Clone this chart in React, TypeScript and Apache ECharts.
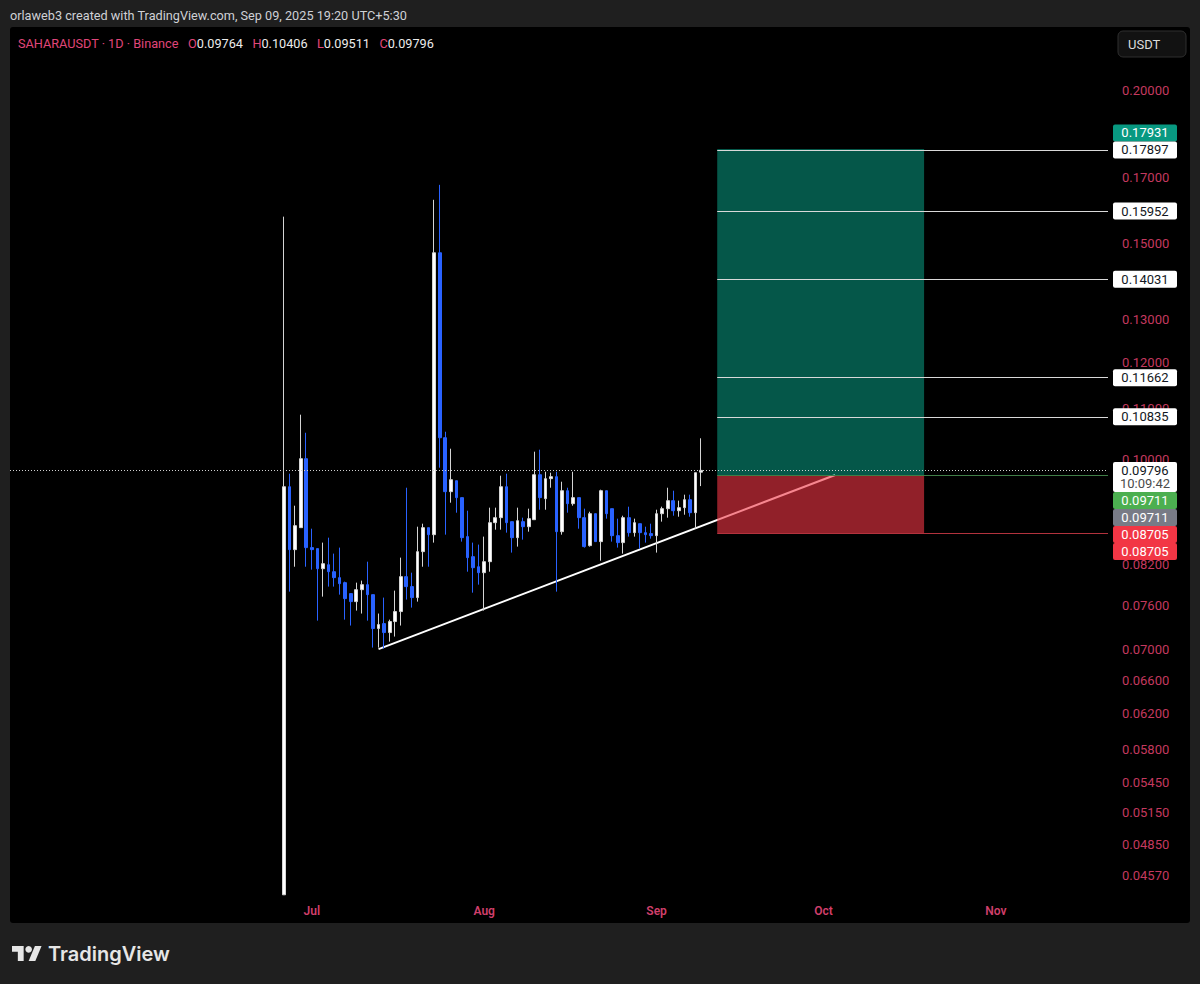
import React, { useEffect, useRef } from 'react';
import * as echarts from 'echarts';

// Daily candles, day 0 = 2025-06-26 (SAHARAUSDT, 1D, Binance)
const candleOpen = [
  0.0441, 0.095, 0.0844, 0.08796, 0.10014, 0.08472, 0.08456, 0.08143, 0.08204, 0.08097,
  0.08007, 0.07932, 0.0777, 0.07654, 0.07828, 0.07902, 0.07755, 0.07276, 0.07344, 0.07221,
  0.07372, 0.07512, 0.08022, 0.07873, 0.07712, 0.08408, 0.08796, 0.08681, 0.1475, 0.10417,
  0.09412, 0.09608, 0.09307, 0.08649, 0.08329, 0.08173, 0.08082, 0.08251, 0.08879, 0.08963,
  0.095, 0.08896, 0.08632, 0.08896, 0.08812, 0.08929, 0.09717, 0.09289, 0.09645, 0.09681,
  0.0873, 0.09429, 0.09202, 0.09307, 0.08963, 0.08504, 0.0903, 0.08568, 0.09429, 0.09116,
  0.08665, 0.08552, 0.08963, 0.08714, 0.08862, 0.08714, 0.08698, 0.08665, 0.0903, 0.09116,
  0.09254, 0.09081, 0.09133, 0.09271, 0.09047, 0.09764,
];
const candleClose = [
  0.095, 0.0844, 0.08829, 0.10014, 0.08472, 0.0844, 0.08143, 0.0822, 0.08097, 0.08007,
  0.07917, 0.07697, 0.07654, 0.07828, 0.07902, 0.07755, 0.07276, 0.0733, 0.07221, 0.07372,
  0.07512, 0.08022, 0.07873, 0.07712, 0.08408, 0.08796, 0.08681, 0.1475, 0.10417, 0.09412,
  0.09626, 0.09307, 0.08632, 0.08314, 0.08158, 0.08082, 0.08251, 0.08879, 0.08963, 0.095,
  0.08879, 0.08632, 0.08912, 0.08812, 0.08946, 0.09717, 0.09307, 0.09645, 0.09681, 0.0873,
  0.09429, 0.09202, 0.09307, 0.08963, 0.08488, 0.0903, 0.08568, 0.09429, 0.0903, 0.08665,
  0.08552, 0.08963, 0.08714, 0.08879, 0.08714, 0.08681, 0.08665, 0.0903, 0.09116, 0.09254,
  0.09081, 0.09133, 0.09271, 0.09047, 0.09754, 0.09796,
];
const candleLow = [
  0.0441, 0.07799, 0.08173, 0.08796, 0.08173, 0.08128, 0.07385, 0.07726, 0.07873, 0.07873,
  0.07755, 0.07399, 0.07317, 0.07526, 0.07484, 0.07385, 0.0702, 0.0702, 0.07007, 0.07099,
  0.07167, 0.07317, 0.07683, 0.07568, 0.07654, 0.08173, 0.08173, 0.08552, 0.09846, 0.08681,
  0.09219, 0.09047, 0.08568, 0.08097, 0.07784, 0.07902, 0.07526, 0.08097, 0.08763, 0.08763,
  0.08714, 0.08393, 0.08488, 0.086, 0.0873, 0.08929, 0.09098, 0.09098, 0.09482, 0.07799,
  0.08681, 0.09047, 0.09167, 0.08779, 0.08472, 0.08488, 0.08568, 0.08266, 0.08946, 0.08568,
  0.08472, 0.08377, 0.08649, 0.08649, 0.08456, 0.08552, 0.08616, 0.08393, 0.08896, 0.08963,
  0.08996, 0.08979, 0.09013, 0.08979, 0.08779, 0.09511,
];
const candleHigh = [
  0.15787, 0.09736, 0.09167, 0.10878, 0.10515, 0.08779, 0.08456, 0.08552, 0.08632, 0.08377,
  0.08472, 0.07947, 0.0777, 0.07932, 0.07962, 0.08251, 0.07755, 0.07484, 0.07712, 0.07399,
  0.07814, 0.08314, 0.09482, 0.08082, 0.08812, 0.08862, 0.08796, 0.16295, 0.1676, 0.10535,
  0.10204, 0.09608, 0.09307, 0.09081, 0.08552, 0.0852, 0.08649, 0.09133, 0.09133, 0.09699,
  0.09736, 0.08896, 0.09133, 0.08963, 0.09116, 0.10147, 0.10185, 0.09772, 0.09754, 0.09772,
  0.0959, 0.09482, 0.09772, 0.09307, 0.09116, 0.09064, 0.0903, 0.09447, 0.09429, 0.09116,
  0.08946, 0.08996, 0.0915, 0.08946, 0.08862, 0.08812, 0.08862, 0.09098, 0.0915, 0.09482,
  0.09429, 0.09254, 0.09359, 0.09359, 0.09754, 0.10406,
];

const monthTickDays = [5, 36, 67, 97, 128];
const monthLabels = ['Jul', 'Aug', 'Sep', 'Oct', 'Nov'];
const priceTicks = [
  0.2, 0.17, 0.15, 0.13, 0.12, 0.11, 0.1, 0.082, 0.076, 0.07, 0.066, 0.062, 0.058, 0.0545,
  0.0515, 0.0485, 0.0457,
];

// Drawings
const trendDays = [17, 99.1];
const trendPrices = [0.07, 0.09711];
const boxDays = [77.9, 115.1];
const targetPrice = 0.17931;
const entryPrice = 0.09711;
const stopPrice = 0.08705;
const tpLevels = [0.17897, 0.15952, 0.14031, 0.11662, 0.10835];
const lastPrice = 0.09796;
const countdown = '10:09:42';
const ohlcKeys = ['O', 'H', 'L', 'C'];
const ohlcValues = ['0.09764', '0.10406', '0.09511', '0.09796'];

const X_MIN = -49.27;
const X_MAX = 148.17;
const FONT = 'Roboto, "Noto Sans", sans-serif';
const PINK = '#c4395f';
const L = Math.log;

function buildOption(): any {
  const candles = candleOpen.map((o, i) => [i, L(o), L(candleClose[i]), L(candleLow[i]), L(candleHigh[i])]);
  const hLine = (p: number, x0: number, style: any) => [
    { coord: [x0, L(p)], lineStyle: style },
    { coord: [X_MAX, L(p)] },
  ];
  const markLineData: any[] = [
    ...tpLevels.map((p) => hLine(p, boxDays[0], { color: '#d9d9d9', width: 1, type: 'solid' })),
    hLine(entryPrice, boxDays[0], { color: '#3f7d47', width: 1, type: 'solid' }),
    hLine(stopPrice, boxDays[0], { color: '#b2323d', width: 1, type: 'solid' }),
    hLine(lastPrice, X_MIN, { color: '#d0d0d0', width: 1, type: [1, 2] }),
  ];
  return {
    animation: false,
    backgroundColor: '#1f1f1f',
    textStyle: { fontFamily: FONT },
    grid: { left: 10, right: 92, top: 28, bottom: 88, outerBoundsMode: 'none', containLabel: false },
    xAxis: {
      type: 'value',
      min: X_MIN,
      max: X_MAX,
      axisLine: { show: false },
      axisTick: { show: false },
      splitLine: { show: false },
      axisLabel: {
        customValues: monthTickDays,
        formatter: (v: number) => {
          const k = monthTickDays.indexOf(Math.round(v));
          return k >= 0 ? monthLabels[k] : '';
        },
        color: '#d03f6b',
        fontSize: 12,
        fontWeight: 600,
        fontFamily: FONT,
        margin: 9,
      },
    },
    yAxis: {
      type: 'value',
      position: 'right',
      min: L(0.044),
      max: L(0.2251),
      axisLine: { show: false },
      axisTick: { show: false },
      splitLine: { show: false },
      axisLabel: {
        customValues: priceTicks.map(L),
        formatter: (v: number) => Math.exp(v).toFixed(5),
        color: PINK,
        fontSize: 13,
        fontFamily: FONT,
        margin: 14,
      },
    },
    series: [
      {
        type: 'line',
        z: 0,
        silent: true,
        symbol: 'none',
        data: trendDays.map((d, i) => [d, L(trendPrices[i])]),
        lineStyle: { color: '#ffffff', width: 2 },
      },
      {
        type: 'candlestick',
        z: 2,
        silent: true,
        barWidth: 3.2,
        data: candles,
        itemStyle: {
          color: '#ffffff',
          color0: '#2962ff',
          borderColor: '#d4d4d4',
          borderColor0: '#2962ff',
          borderWidth: 1,
        },
        markArea: {
          silent: true,
          data: [
            [
              { coord: [boxDays[0], L(targetPrice)], itemStyle: { color: 'rgba(8,153,129,0.57)' } },
              { coord: [boxDays[1], L(entryPrice)] },
            ],
            [
              { coord: [boxDays[0], L(entryPrice)], itemStyle: { color: 'rgba(242,54,69,0.6)' } },
              { coord: [boxDays[1], L(stopPrice)] },
            ],
          ],
        },
        markLine: {
          silent: true,
          symbol: ['none', 'none'],
          label: { show: false },
          data: markLineData,
        },
      },
    ],
  };
}

function tagEls(yPx: (p: number) => number): any[] {
  const els: any[] = [];
  const TX = 1113;
  const TW = 64;
  const H = 17;
  const add = (top: number, h: number, fill: string, lines: { t: string; c: string }[]) => {
    els.push({ type: 'rect', z: 20, shape: { x: TX, y: top, width: TW, height: h, r: 2 }, style: { fill } });
    lines.forEach((ln, k) => {
      els.push({
        type: 'text',
        z: 21,
        style: {
          text: ln.t,
          x: TX + TW / 2,
          y: top + 8.5 + k * 13.5,
          fill: ln.c,
          fontSize: 13,
          fontFamily: FONT,
          align: 'center',
          verticalAlign: 'middle',
          textAlign: 'center',
          textVerticalAlign: 'middle',
        },
      });
    });
    return top + h;
  };
  // top group
  const topWhite = yPx(tpLevels[0]) - H / 2;
  add(topWhite - H, H, '#089981', [{ t: targetPrice.toFixed(5), c: '#ffffff' }]);
  add(topWhite, H, '#ffffff', [{ t: tpLevels[0].toFixed(5), c: '#131722' }]);
  tpLevels.slice(1).forEach((p) => add(yPx(p) - H / 2, H, '#ffffff', [{ t: p.toFixed(5), c: '#131722' }]));
  // price / entry / stop stack
  let b = add(yPx(lastPrice) - 8.5, 30, '#ffffff', [
    { t: lastPrice.toFixed(5), c: '#131722' },
    { t: countdown, c: '#4a4a4a' },
  ]);
  b = add(Math.max(yPx(entryPrice) - H / 2, b), H, '#4caf50', [{ t: entryPrice.toFixed(5), c: '#ffffff' }]);
  b = add(Math.max(yPx(entryPrice) - H / 2, b), H, '#787b86', [{ t: entryPrice.toFixed(5), c: '#ffffff' }]);
  b = add(Math.max(yPx(stopPrice) - H / 2, b), H, '#f23645', [{ t: stopPrice.toFixed(5), c: '#ffffff' }]);
  add(Math.max(yPx(stopPrice) - H / 2, b), H, '#f23645', [{ t: stopPrice.toFixed(5), c: '#ffffff' }]);
  return els;
}

function staticEls(): any[] {
  const legendText =
    '{p|SAHARAUSDT · 1D · Binance}   ' +
    ohlcKeys.map((k, i) => `{p|${k}}{w|${ohlcValues[i]}}`).join('   ');
  const logoScale = 0.833;
  return [
    {
      type: 'rect',
      z: -10,
      shape: { x: 10, y: 27, width: 1180, height: 896, r: 3 },
      style: { fill: '#000000' },
    },
    {
      type: 'text',
      z: 10,
      style: {
        text: 'orlaweb3 created with TradingView.com, Sep 09, 2025 19:20 UTC+5:30',
        x: 10,
        y: 15.5,
        fill: '#cfd1d6',
        fontSize: 12.7,
        fontFamily: FONT,
        verticalAlign: 'middle',
        textVerticalAlign: 'middle',
      },
    },
    {
      type: 'text',
      z: 10,
      style: {
        text: legendText,
        x: 18,
        y: 43,
        fontSize: 12.7,
        fontFamily: FONT,
        fill: '#e6e6e6',
        verticalAlign: 'middle',
        textVerticalAlign: 'middle',
        rich: {
          p: { fill: '#e0467a', fontSize: 12.7, fontFamily: FONT },
          w: { fill: '#ececec', fontSize: 12.7, fontFamily: FONT },
        },
      },
    },
    {
      type: 'rect',
      z: 10,
      shape: { x: 1118, y: 31, width: 68, height: 26, r: 5 },
      style: { fill: '#121212', stroke: '#2e2e2e', lineWidth: 1 },
    },
    {
      type: 'text',
      z: 11,
      style: {
        text: 'USDT',
        x: 1128,
        y: 44,
        fill: '#dcdcdc',
        fontSize: 13,
        fontFamily: FONT,
        verticalAlign: 'middle',
        textVerticalAlign: 'middle',
      },
    },
    {
      type: 'group',
      z: 10,
      x: 12,
      y: 946 - 4 * logoScale,
      scaleX: logoScale,
      scaleY: logoScale,
      children: [
        {
          type: 'polygon',
          z: 10,
          shape: { points: [[0, 4], [14, 4], [14, 22], [7, 22], [7, 11], [0, 11]] },
          style: { fill: '#e6e6e6' },
        },
        { type: 'circle', z: 10, shape: { cx: 20, cy: 8, r: 4 }, style: { fill: '#e6e6e6' } },
        {
          type: 'polygon',
          z: 10,
          shape: { points: [[20, 22], [27.5, 4], [35.5, 4], [28, 22]] },
          style: { fill: '#e6e6e6' },
        },
      ],
    },
    {
      type: 'text',
      z: 10,
      style: {
        text: 'TradingView',
        x: 48,
        y: 954,
        fill: '#e6e6e6',
        fontSize: 20,
        fontWeight: 600,
        fontFamily: 'Inter, Roboto, sans-serif',
        verticalAlign: 'middle',
        textVerticalAlign: 'middle',
      },
    },
  ];
}

export default function App() {
  const ref = useRef<HTMLDivElement>(null);
  useEffect(() => {
    const el = ref.current;
    if (!el) return;
    const chart = echarts.init(el, null, { renderer: 'svg' });
    chart.setOption(buildOption());
    const yPx = (p: number) => chart.convertToPixel({ yAxisIndex: 0 } as any, L(p)) as number;
    chart.setOption({ graphic: { elements: [...staticEls(), ...tagEls(yPx)] } });
    return () => chart.dispose();
  }, []);
  return (
    <div
      ref={ref}
      style={{ position: 'absolute', left: 0, top: 0, width: 1200, height: 984 }}
    />
  );
}
